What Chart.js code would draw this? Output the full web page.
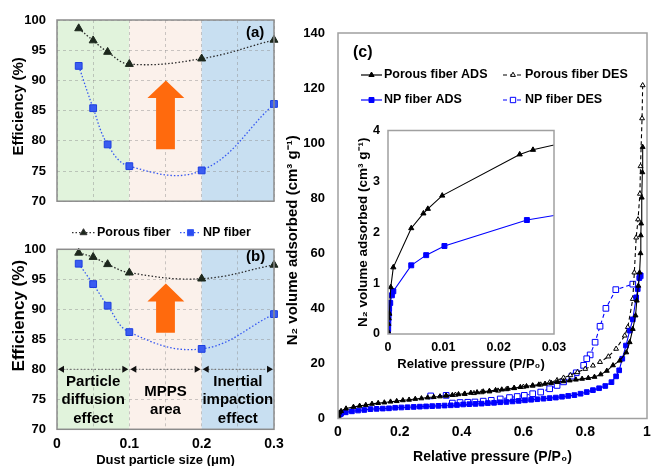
<!DOCTYPE html>
<html>
<head>
<meta charset="utf-8">
<title>Filtration efficiency and N2 isotherms</title>
<script src="https://cdn.jsdelivr.net/npm/chart.js@4.4.1/dist/chart.umd.min.js"></script>
<style>
  html, body { margin: 0; padding: 0; background: #fff; overflow: hidden; }
  #fig { position: relative; width: 652px; height: 466px; overflow: hidden; }
  #fig canvas { position: absolute; }
</style>
</head>
<body>
<div id="fig">
  <canvas id="effA" width="290" height="220" style="left:0px;top:0px"></canvas>
  <canvas id="effB" width="290" height="260" style="left:0px;top:220px"></canvas>
  <canvas id="iso" width="372" height="466" style="left:280px;top:0px"></canvas>
  <canvas id="inset" width="224" height="265" style="left:350px;top:115px"></canvas>
</div>
<script>
const FONT = "'Liberation Sans', Arial, Helvetica, sans-serif";
Chart.defaults.font.family = FONT;
Chart.defaults.font.weight = 'bold';
Chart.defaults.color = '#000';

// (a), (b) filtration efficiency vs dust particle size
const sizes = [0.03, 0.05, 0.07, 0.1, 0.2, 0.3];
const porousA = [98.6, 96.6, 94.7, 92.7, 93.6, 96.7];
const npA = [92.4, 85.4, 79.4, 75.8, 75.1, 86.1];
const porousB = [99.4, 98.7, 97.5, 96.1, 95.1, 97.4];
const npB = [97.6, 94.2, 90.6, 86.2, 83.4, 89.2];
const regions = [0, 0.1, 0.2, 0.3];
const regionNames = [['Particle', 'diffusion', 'effect'], ['MPPS', 'area'], ['Inertial', 'impaction', 'effect']];
const regionColors = ['#e1f3dc', '#fbf1eb', '#c8dff1'];
const arrowX = [0.125, 0.137, 0.163, 0.176];

// (c) N2 adsorption / desorption isotherms
const porousAdsP = [0, 0.0005, 0.001, 0.004, 0.01, 0.026, 0.05, 0.07, 0.09, 0.11, 0.13, 0.15, 0.17, 0.19, 0.21, 0.23, 0.25, 0.27, 0.29, 0.31, 0.33, 0.35, 0.37, 0.39, 0.41, 0.43, 0.45, 0.47, 0.49, 0.51, 0.53, 0.55, 0.57, 0.59, 0.61, 0.63, 0.65, 0.67, 0.69, 0.71, 0.73, 0.75, 0.77, 0.79, 0.81, 0.83, 0.85, 0.87, 0.89, 0.912, 0.933, 0.944, 0.954, 0.963, 0.967, 0.972, 0.976, 0.979, 0.98, 0.981, 0.983, 0.985, 0.986];
const porousAdsV = [0.3, 0.9, 1.3, 2.1, 2.7, 3.6, 4.2, 4.6, 4.9, 5.3, 5.6, 5.8, 6.1, 6.3, 6.6, 6.8, 7.1, 7.3, 7.6, 7.8, 8.0, 8.3, 8.5, 8.8, 9.0, 9.3, 9.5, 9.8, 10.0, 10.3, 10.5, 10.8, 11.1, 11.4, 11.7, 12.0, 12.3, 12.6, 12.9, 13.2, 13.5, 13.8, 14.1, 14.4, 14.7, 15.1, 16.0, 17.3, 19.3, 21, 24, 27.7, 32.5, 37.4, 42.8, 48.2, 53, 60, 66.5, 70.8, 80.2, 89.4, 98.6];
const porousDesP = [0.986, 0.984, 0.979, 0.977, 0.971, 0.965, 0.959, 0.954, 0.938, 0.928, 0.9, 0.875, 0.848, 0.825, 0.8, 0.775, 0.752, 0.73, 0.709, 0.685, 0.656, 0.63, 0.6, 0.57, 0.545, 0.518, 0.49, 0.465, 0.44, 0.41, 0.38, 0.35];
const porousDesV = [121, 109, 91.6, 81.6, 72.3, 65.7, 53, 43.4, 33.2, 30.1, 25.3, 22.5, 20.5, 19.2, 18, 16.8, 15.7, 14.8, 13.9, 13.1, 12.3, 11.9, 11.5, 11.0, 10.6, 10.1, 9.8, 9.5, 9.2, 8.9, 8.6, 8.3];
const npAdsP = [0, 0.0003, 0.001, 0.004, 0.007, 0.01, 0.025, 0.045, 0.065, 0.085, 0.105, 0.125, 0.145, 0.165, 0.185, 0.205, 0.225, 0.245, 0.265, 0.285, 0.305, 0.325, 0.345, 0.365, 0.385, 0.405, 0.425, 0.445, 0.465, 0.485, 0.505, 0.525, 0.545, 0.565, 0.585, 0.605, 0.625, 0.645, 0.665, 0.685, 0.705, 0.725, 0.745, 0.765, 0.785, 0.805, 0.825, 0.845, 0.865, 0.885, 0.9, 0.91, 0.92, 0.932, 0.944, 0.954, 0.965, 0.97, 0.975, 0.978];
const npAdsV = [0.1, 0.6, 0.85, 1.35, 1.55, 1.73, 2.24, 2.6, 2.9, 3.1, 3.4, 3.5, 3.6, 3.7, 3.9, 4.0, 4.1, 4.2, 4.3, 4.4, 4.5, 4.6, 4.7, 4.8, 4.9, 5.1, 5.2, 5.3, 5.4, 5.6, 5.7, 5.9, 6.0, 6.2, 6.4, 6.6, 6.8, 7.0, 7.2, 7.4, 7.6, 7.9, 8.2, 8.5, 9.0, 9.6, 10.3, 11.0, 11.8, 13.2, 15.3, 17.5, 21.7, 26.5, 31.9, 36, 44, 47, 51, 52];
const npDesP = [0.978, 0.954, 0.899, 0.867, 0.848, 0.832, 0.816, 0.805, 0.795, 0.771, 0.757, 0.73, 0.709, 0.685, 0.656, 0.63, 0.603, 0.58, 0.555, 0.525, 0.496, 0.47, 0.443, 0.42, 0.395, 0.37, 0.35, 0.3];
const npDesV = [51.8, 48.8, 46.8, 40, 33.5, 27.7, 23.1, 21.7, 19.3, 16.6, 15.4, 13.3, 12, 10.8, 9.6, 9.0, 8.4, 8.0, 7.6, 7.1, 6.6, 6.3, 6.0, 5.9, 5.8, 5.6, 8.4, 8.2];

// inset: low pressure part of the adsorption branches
const insetPorousP = [0, 0.00005, 0.00012, 0.00024, 0.0005, 0.00096, 0.0042, 0.0064, 0.0072, 0.0098, 0.0238, 0.0262, 0.035];
const insetPorousV = [0.05, 0.2, 0.31, 0.4, 0.92, 1.31, 2.08, 2.37, 2.46, 2.72, 3.53, 3.62, 3.84];
const insetNpP = [0, 0.00003, 0.00006, 0.0001, 0.00015, 0.0002, 0.0004, 0.0007, 0.00096, 0.0042, 0.0069, 0.0102, 0.0251, 0.04];
const insetNpV = [0.02, 0.1, 0.2, 0.3, 0.4, 0.5, 0.61, 0.76, 0.84, 1.35, 1.55, 1.73, 2.24, 2.51];

const GRID = 'rgba(140,140,140,0.45)';
const pairs = (xs, ys) => xs.map((x, i) => ({ x, y: ys[i] }));

function legendEntry(ctx, x, y, e) {
  ctx.save();
  ctx.strokeStyle = e.color;
  ctx.lineWidth = 1.2;
  ctx.setLineDash(e.dash || []);
  ctx.beginPath();
  ctx.moveTo(x, y);
  ctx.lineTo(x + e.w, y);
  ctx.stroke();
  ctx.setLineDash([]);
  ctx.fillStyle = e.fill;
  ctx.lineWidth = 1;
  Chart.helpers.drawPoint(ctx, { pointStyle: e.style, radius: e.r, borderWidth: 1, rotation: 0 }, x + e.w / 2, y);
  ctx.fillStyle = '#000';
  ctx.font = `bold ${e.size}px ${FONT}`;
  ctx.textBaseline = 'middle';
  ctx.textAlign = 'left';
  ctx.fillText(e.label, x + e.w + 2, y);
  ctx.restore();
}

const framePlugin = {
  id: 'frame',
  beforeDraw(chart, args, o) {
    if (!o.fill) return;
    const a = chart.chartArea;
    chart.ctx.save();
    chart.ctx.fillStyle = o.fill;
    chart.ctx.fillRect(a.left, a.top, a.right - a.left, a.bottom - a.top);
    chart.ctx.restore();
  },
  afterDraw(chart, args, o) {
    const { ctx, chartArea: a } = chart;
    ctx.save();
    ctx.strokeStyle = o.color || '#999';
    ctx.lineWidth = 1.5;
    ctx.strokeRect(a.left, a.top, a.right - a.left, a.bottom - a.top);
    ctx.restore();
  }
};

const effPlugin = {
  id: 'eff',
  beforeDraw(chart) {
    const { ctx, chartArea: a, scales: { x } } = chart;
    ctx.save();
    for (let i = 0; i < regions.length - 1; i++) {
      const x0 = x.getPixelForValue(regions[i]);
      const x1 = x.getPixelForValue(regions[i + 1]);
      ctx.fillStyle = regionColors[i];
      ctx.fillRect(x0, a.top, x1 - x0, a.bottom - a.top);
    }
    ctx.restore();
  },
  beforeDatasetsDraw(chart, args, o) {
    const { ctx, scales: { x, y } } = chart;
    const [xl, xs0, xs1, xr] = arrowX.map(v => x.getPixelForValue(v));
    const [yTip, yBase, yEnd] = o.arrowY.map(v => y.getPixelForValue(v));
    ctx.save();
    ctx.fillStyle = '#ff6a0d';
    ctx.beginPath();
    ctx.moveTo((xl + xr) / 2, yTip);
    ctx.lineTo(xr, yBase);
    ctx.lineTo(xs1, yBase);
    ctx.lineTo(xs1, yEnd);
    ctx.lineTo(xs0, yEnd);
    ctx.lineTo(xs0, yBase);
    ctx.lineTo(xl, yBase);
    ctx.closePath();
    ctx.fill();
    ctx.restore();
  },
  afterDatasetsDraw(chart, args, o) {
    if (!o.regionText) return;
    const { ctx, scales: { x, y } } = chart;
    ctx.save();
    // double headed arrows along 80 %
    const yy = y.getPixelForValue(80);
    for (let i = 0; i < regions.length - 1; i++) {
      const x0 = x.getPixelForValue(regions[i]) + 1;
      const x1 = x.getPixelForValue(regions[i + 1]) - 1;
      ctx.strokeStyle = '#666';
      ctx.lineWidth = 1;
      ctx.setLineDash([1.5, 2]);
      ctx.beginPath();
      ctx.moveTo(x0 + 5, yy);
      ctx.lineTo(x1 - 5, yy);
      ctx.stroke();
      ctx.fillStyle = '#111';
      ctx.beginPath();
      ctx.moveTo(x0, yy); ctx.lineTo(x0 + 6, yy - 3.5); ctx.lineTo(x0 + 6, yy + 3.5);
      ctx.closePath(); ctx.fill();
      ctx.beginPath();
      ctx.moveTo(x1, yy); ctx.lineTo(x1 - 6, yy - 3.5); ctx.lineTo(x1 - 6, yy + 3.5);
      ctx.closePath(); ctx.fill();
    }
    ctx.setLineDash([]);
    ctx.fillStyle = '#000';
    ctx.font = `bold 15px ${FONT}`;
    ctx.textAlign = 'center';
    ctx.textBaseline = 'middle';
    regionNames.forEach((lines, i) => {
      const cx = x.getPixelForValue((regions[i] + regions[i + 1]) / 2);
      const ys = lines.length === 3 ? o.textY3 : o.textY2;
      lines.forEach((t, j) => ctx.fillText(t, cx, y.getPixelForValue(ys[j])));
    });
    ctx.restore();
  },
  afterDraw(chart, args, o) {
    const { ctx, chartArea: a } = chart;
    ctx.save();
    ctx.fillStyle = '#000';
    ctx.font = `bold 15px ${FONT}`;
    ctx.textBaseline = 'middle';
    ctx.fillText(o.panel, a.right - 28, a.top + o.panelDy);
    ctx.restore();
    if (o.legend) {
      const ly = a.top - 16.6;
      legendEntry(ctx, 72, ly, { label: 'Porous fiber', color: '#333', dash: [1.5, 2], style: 'triangle', r: 4, fill: '#1d281d', w: 23, size: 12.5 });
      legendEntry(ctx, 180, ly, { label: 'NP fiber', color: '#3557f2', dash: [1.5, 2], style: 'rect', r: 4.3, fill: '#2a4cf2', w: 21, size: 12.5 });
    }
  }
};

function effChart(id, porous, np, o) {
  return new Chart(document.getElementById(id), {
    type: 'line',
    data: {
      datasets: [
        { label: 'Porous fiber', data: pairs(sizes, porous), borderColor: '#2b2b2b', borderWidth: 1.3, borderDash: [1.5, 2], tension: 0.4, clip: false,
          pointStyle: 'triangle', pointRadius: 4.6, pointBackgroundColor: '#1d281d', pointBorderColor: '#1d281d', pointBorderWidth: 1 },
        { label: 'NP fiber', data: pairs(sizes, np), borderColor: '#3557f2', borderWidth: 1.3, borderDash: [1.5, 2], tension: 0.4, clip: false,
          pointStyle: 'rect', pointRadius: 4.8, pointBackgroundColor: '#3a5cf0', pointBorderColor: '#1d3fe0', pointBorderWidth: 1 }
      ]
    },
    options: {
      responsive: false,
      animation: false,
      layout: { padding: { top: o.top, right: 16, bottom: 0, left: 0 } },
      plugins: { legend: { display: false }, tooltip: { enabled: false }, eff: o, frame: { color: '#8c8c8c' } },
      scales: {
        x: {
          type: 'linear', min: 0, max: 0.3,
          grid: { color: GRID, drawTicks: false },
          border: { display: false, dash: [3, 3] },
          ticks: {
            display: o.showX, stepSize: 0.05, autoSkip: false, maxRotation: 0, padding: 6.3, font: { size: 14 },
            callback: v => Math.abs(v * 10 - Math.round(v * 10)) < 1e-6 ? String(+v.toFixed(1)) : ''
          },
          title: { display: o.showX, text: 'Dust particle size (μm)', font: { size: 13 }, padding: { top: 0, bottom: 12.2 } },
          afterFit: s => { s.height = o.xh; s.paddingLeft = 0; s.paddingRight = 0; }
        },
        y: {
          min: 70, max: 100,
          grid: { color: GRID, drawTicks: false },
          border: { display: false, dash: [3, 3] },
          ticks: { stepSize: 5, padding: 11, font: { size: 13 } },
          title: { display: true, text: o.yTitle, font: { size: o.titleSize }, padding: { top: o.titlePad, bottom: 0 } },
          afterFit: s => { s.width = 57; }
        }
      }
    },
    plugins: [effPlugin, framePlugin]
  });
}

effChart('effA', porousA, npA, {
  top: 20, xh: 7, showX: false, yTitle: '  Efficiency (%)', titleSize: 15, titlePad: 10,
  arrowY: [90, 87.1, 78.6], regionText: false, panel: '(a)', panelDy: 13, legend: false
});
// leading spaces nudge the title up like in the original figure
effChart('effB', porousB, npB, {
  top: 29.3, xh: 50.7, showX: true, yTitle: ' '.repeat(10) + 'Efficiency (%)', titleSize: 17, titlePad: 9,
  arrowY: [94.3, 91.3, 86.1], regionText: true, textY3: [77.9, 74.9, 71.7], textY2: [76.3, 73.2],
  panel: '(b)', panelDy: 7.4, legend: true
});

function isoSet(label, p, v, color, style, r, fill, dash) {
  return {
    label, data: pairs(p, v), borderColor: color, borderWidth: 1.1, borderDash: dash, tension: 0,
    pointStyle: style, pointRadius: r, pointBackgroundColor: fill, pointBorderColor: color, pointBorderWidth: 1
  };
}

const isoLegend = [
  { x: 81, y: 75, label: 'Porous fiber ADS', color: '#000', dash: [], style: 'triangle', r: 3, fill: '#000', w: 21, size: 12.5 },
  { x: 223, y: 75, label: 'Porous fiber DES', color: '#000', dash: [4, 3], style: 'triangle', r: 2.8, fill: '#fff', w: 20, size: 12.5 },
  { x: 81, y: 100, label: 'NP fiber ADS', color: '#0000ff', dash: [], style: 'rect', r: 3.5, fill: '#0000ff', w: 21, size: 12.5 },
  { x: 223, y: 100, label: 'NP fiber DES', color: '#0000ff', dash: [4, 3], style: 'rect', r: 3.8, fill: '#fff', w: 20, size: 12.5 }
];

const plainTick = v => String(+v.toFixed(2));

new Chart(document.getElementById('iso'), {
  type: 'line',
  data: {
    datasets: [
      isoSet('Porous fiber ADS', porousAdsP, porousAdsV, '#000', 'triangle', 2.8, '#000', []),
      isoSet('NP fiber ADS', npAdsP, npAdsV, '#0000ff', 'rect', 3.3, '#0000ff', []),
      isoSet('Porous fiber DES', porousDesP, porousDesV, '#000', 'triangle', 2.8, '#fff', [4, 3]),
      isoSet('NP fiber DES', npDesP, npDesV, '#0000ff', 'rect', 4, '#fff', [4, 3])
    ]
  },
  options: {
    responsive: false,
    animation: false,
    layout: { padding: { top: 33, right: 1, bottom: 0, left: 0 } },
    plugins: { legend: { display: false }, tooltip: { enabled: false }, frame: { color: '#a0a0a0' } },
    scales: {
      x: {
        type: 'linear', min: 0, max: 1,
        grid: { display: false, drawTicks: false },
        border: { display: false },
        ticks: { stepSize: 0.2, maxRotation: 0, padding: 5.4, font: { size: 14 }, callback: plainTick },
        title: { display: true, text: 'Relative pressure (P/P₀)', font: { size: 14 }, padding: { top: 0, bottom: 0.3 } },
        afterFit: s => { s.height = 47.5; s.paddingLeft = 0; s.paddingRight = 0; }
      },
      y: {
        min: 0, max: 140,
        grid: { display: false, drawTicks: false },
        border: { display: false },
        ticks: { stepSize: 20, padding: 13, font: { size: 13 } },
        // trailing spaces push the title down a little, as in the original
        title: { display: true, text: 'N₂ volume adsorbed (cm³ g⁻¹)' + ' '.repeat(7), font: { size: 15 }, padding: { top: 4, bottom: 0 } },
        afterFit: s => { s.width = 58; }
      }
    }
  },
  plugins: [framePlugin, {
    id: 'isoLegend',
    afterDraw(chart) {
      const ctx = chart.ctx;
      isoLegend.forEach(e => legendEntry(ctx, e.x, e.y, e));
      ctx.save();
      ctx.font = `bold 16px ${FONT}`;
      ctx.textBaseline = 'middle';
      ctx.fillStyle = '#000';
      ctx.fillText('(c)', 73, 53);
      ctx.restore();
    }
  }]
});

new Chart(document.getElementById('inset'), {
  type: 'line',
  data: {
    datasets: [
      isoSet('Porous fiber ADS', insetPorousP, insetPorousV, '#000', 'triangle', 3, '#000', []),
      isoSet('NP fiber ADS', insetNpP, insetNpV, '#0000ff', 'rect', 3.5, '#0000ff', [])
    ]
  },
  options: {
    responsive: false,
    animation: false,
    layout: { padding: { top: 13, right: 20, bottom: 0, left: 0 } },
    plugins: { legend: { display: false }, tooltip: { enabled: false }, frame: { color: '#a0a0a0', fill: '#fff' } },
    scales: {
      x: {
        type: 'linear', min: 0, max: 0.03,
        grid: { display: false, drawTicks: false },
        border: { display: false },
        ticks: { stepSize: 0.01, maxRotation: 0, padding: 6.5, font: { size: 12.5 }, callback: plainTick },
        title: { display: true, text: 'Relative pressure (P/P₀)', font: { size: 13 }, padding: { top: 0, bottom: 8.2 } },
        afterFit: s => { s.height = 46; s.paddingLeft = 0; s.paddingRight = 0; }
      },
      y: {
        min: 0, max: 4,
        grid: { display: false, drawTicks: false },
        border: { display: false },
        ticks: { stepSize: 1, padding: 8, font: { size: 12.5 } },
        title: { display: true, text: 'N₂ volume adsorbed (cm³ g⁻¹)', font: { size: 13.5 }, padding: { top: 5, bottom: 0 } },
        afterFit: s => { s.width = 38; }
      }
    }
  },
  plugins: [framePlugin]
});
</script>
</body>
</html>
